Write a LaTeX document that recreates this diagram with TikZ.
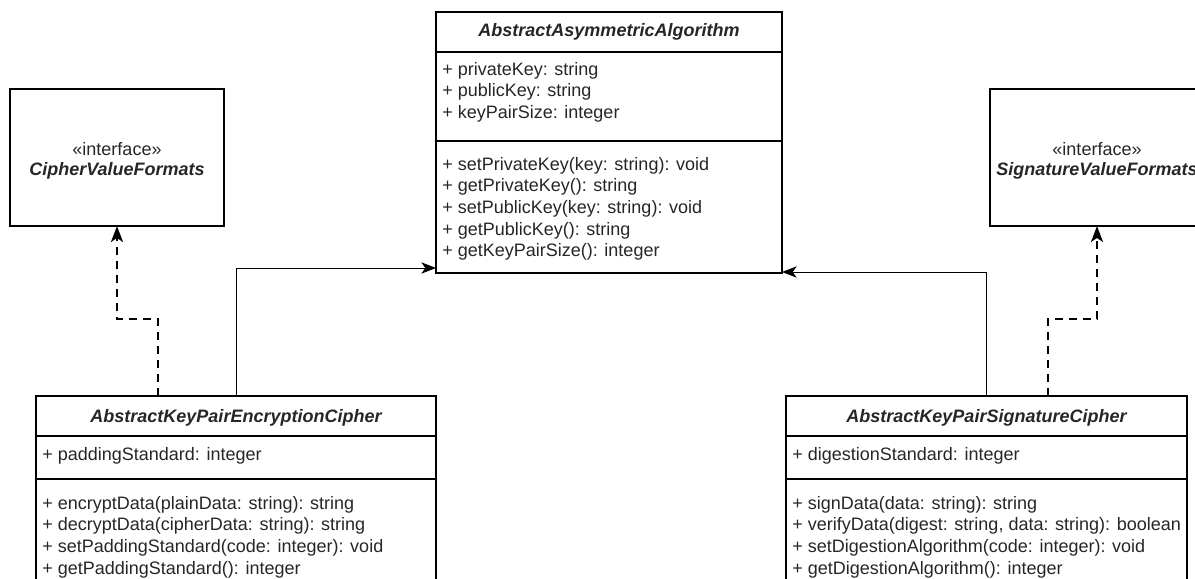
\documentclass[tikz,border=0pt]{standalone}
\usepackage{fontspec}
\setmainfont{Liberation Sans}
\usetikzlibrary{arrows.meta}
\newcommand{\umlsize}{\fontsize{13.5}{16.2}\selectfont}

\begin{document}
\begin{tikzpicture}[x=0.75pt,y=-0.75pt,
  cls/.style={draw,line width=0.9pt,anchor=north west,inner sep=0pt,outer sep=0pt},
  ttl/.style={font=\umlsize\bfseries\itshape,text=black!85,inner sep=0pt},
  mem/.style={font=\umlsize,text=black!85,anchor=west,inner sep=0pt,text height=0.75em,text depth=0.25em},
  sep/.style={line width=0.9pt},
  inherit/.style={line width=0.75pt,-{Stealth[length=11pt,width=8.5pt,inset=3pt]}},
  impl/.style={line width=1.6pt,dash pattern=on 6pt off 4.5pt,-{Stealth[length=12pt,width=9pt,inset=3pt]}}]
\useasboundingbox (0,0) rectangle (1195,578);
\clip (0,0) rectangle (1195,578);

% base class
\node[cls,minimum width=259.5pt,minimum height=195.75pt] (algo) at (436,12) {};
\node[ttl] (algo-t) at (609,32) {AbstractAsymmetricAlgorithm};
\draw[sep] ([yshift=-30pt]algo.north west) -- ([yshift=-30pt]algo.north east);
\draw[sep] ([yshift=-96.75pt]algo.north west) -- ([yshift=-96.75pt]algo.north east);
\foreach \m [count=\i] in {{privateKey: string},{publicKey: string},{keyPairSize: integer}}
  \node[mem] (algo-f\i) at (442,50.4+21.6*\i) {+ \m};
\foreach \m [count=\i] in {{setPrivateKey(key: string): void},{getPrivateKey(): string},
    {setPublicKey(key: string): void},{getPublicKey(): string},{getKeyPairSize(): integer}}
  \node[mem] (algo-m\i) at (442,145.4+21.6*\i) {+ \m};

% interfaces
\node[cls,minimum width=160.5pt,minimum height=102.75pt] (cvf) at (10,89) {};
\node[mem,anchor=center] (cvf-s) at (117,152) {«interface»};
\node[ttl] (cvf-n) at (117,171) {CipherValueFormats};
\node[cls,minimum width=160.5pt,minimum height=102.75pt] (svf) at (990,89) {};
\node[mem,anchor=center] (svf-s) at (1097,152) {«interface»};
\node[ttl] (svf-n) at (1097,171) {SignatureValueFormats};

% encryption cipher
\node[cls,minimum width=300pt,minimum height=195pt] (enc) at (36,396) {};
\node[ttl] (enc-t) at (236,418) {AbstractKeyPairEncryptionCipher};
\draw[sep] ([yshift=-30pt]enc.north west) -- ([yshift=-30pt]enc.north east);
\draw[sep] ([yshift=-62.25pt]enc.north west) -- ([yshift=-62.25pt]enc.north east);
\node[mem] (enc-f1) at (42,457) {+ paddingStandard: integer};
\foreach \m [count=\i] in {{encryptData(plainData: string): string},{decryptData(cipherData: string): string},
    {setPaddingStandard(code: integer): void},{getPaddingStandard(): integer}}
  \node[mem] (enc-m\i) at (42,484.4+21.6*\i) {+ \m};

% signature cipher
\node[cls,minimum width=300.75pt,minimum height=195pt] (sig) at (786,396) {};
\node[ttl] (sig-t) at (986.5,418) {AbstractKeyPairSignatureCipher};
\draw[sep] ([yshift=-30pt]sig.north west) -- ([yshift=-30pt]sig.north east);
\draw[sep] ([yshift=-62.25pt]sig.north west) -- ([yshift=-62.25pt]sig.north east);
\node[mem] (sig-f1) at (792,457) {+ digestionStandard: integer};
\foreach \m [count=\i] in {{signData(data: string): string},{verifyData(digest: string, data: string): boolean},
    {setDigestionAlgorithm(code: integer): void},{getDigestionAlgorithm(): integer}}
  \node[mem] (sig-m\i) at (792,484.4+21.6*\i) {+ \m};

% relations
\draw[inherit] (enc.north) |- ([yshift=3.75pt]algo.south west);
\draw[inherit] (sig.north) |- ([yshift=0.75pt]algo.south east);
\draw[impl] ([xshift=-58.5pt]enc.north) -- ++(0,-77) -| (cvf.south);
\draw[impl] ([xshift=46.1pt]sig.north) -- ++(0,-77) -| (svf.south);
\end{tikzpicture}
\end{document}
